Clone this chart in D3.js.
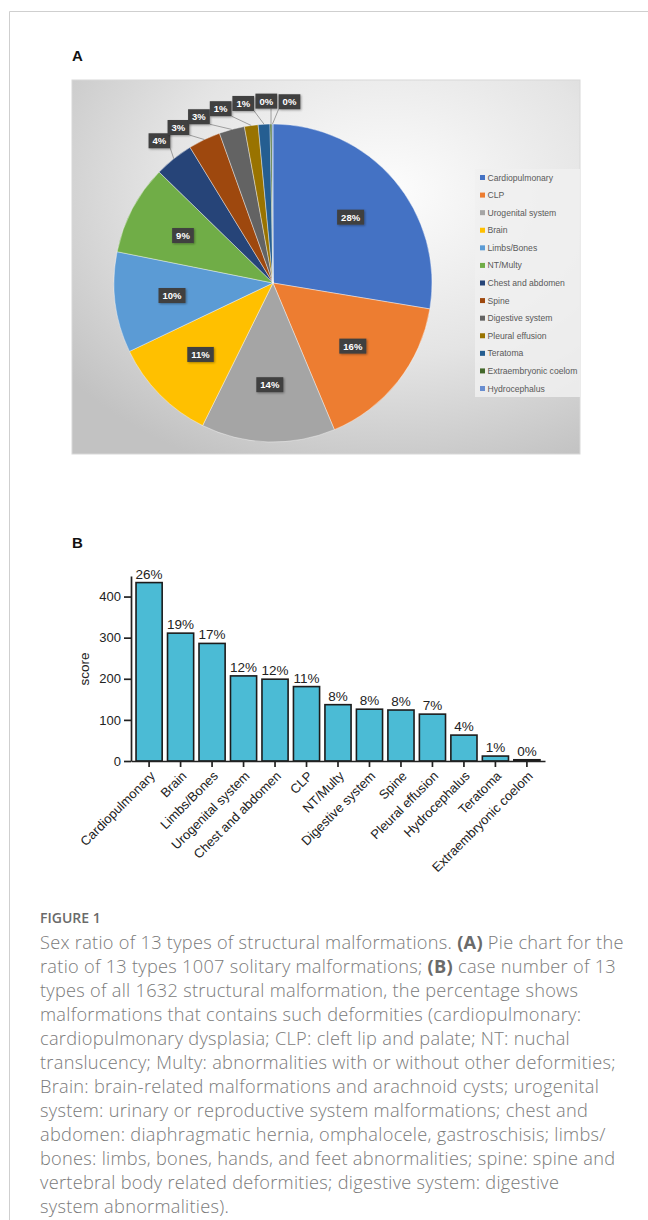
<!DOCTYPE html>
<html>
<head>
<meta charset="utf-8">
<script src="https://cdn.jsdelivr.net/npm/d3@7"></script>
<style>
body { margin: 0; background: #fff; }
svg text { font-family: "Liberation Sans", Arial, sans-serif; }
.caption { font-family: "Open Sans", sans-serif !important; }
</style>
</head>
<body>
<svg id="canvas" width="648" height="1220"></svg>
<script>
// pie (A): 1007 solitary malformations
let pieNames = ["Cardiopulmonary", "CLP", "Urogenital system", "Brain", "Limbs/Bones", "NT/Multy",
    "Chest and abdomen", "Spine", "Digestive system", "Pleural effusion", "Teratoma",
    "Extraembryonic coelom", "Hydrocephalus"]
let pieCounts = [278, 162, 137, 107, 103, 92, 40, 33, 26, 14, 12, 2, 1]
let pieColors = ["#4472C4", "#ED7D31", "#A5A5A5", "#FFC000", "#5B9BD5", "#70AD47",
    "#264478", "#9E480E", "#636363", "#997300", "#255E91", "#43682B", "#698ED0"]

// bars (B): 1632 structural malformations
let barNames = ["Cardiopulmonary", "Brain", "Limbs/Bones", "Urogenital system", "Chest and abdomen", "CLP",
    "NT/Multy", "Digestive system", "Spine", "Pleural effusion", "Hydrocephalus", "Teratoma",
    "Extraembryonic coelom"]
let barValues = [434, 311, 286, 207, 199, 181, 137, 126, 124, 114, 63, 12, 3]
let barPercents = ["26%", "19%", "17%", "12%", "12%", "11%", "8%", "8%", "8%", "7%", "4%", "1%", "0%"]
let yTicks = [0, 100, 200, 300, 400]

let captionLines = [
    ["Sex ratio of 13 types of structural malformations. ", "(A)", " Pie chart for the"],
    ["ratio of 13 types 1007 solitary malformations; ", "(B)", " case number of 13"],
    ["types of all 1632 structural malformation, the percentage shows"],
    ["malformations that contains such deformities (cardiopulmonary:"],
    ["cardiopulmonary dysplasia; CLP: cleft lip and palate; NT: nuchal"],
    ["translucency; Multy: abnormalities with or without other deformities;"],
    ["Brain: brain-related malformations and arachnoid cysts; urogenital"],
    ["system: urinary or reproductive system malformations; chest and"],
    ["abdomen: diaphragmatic hernia, omphalocele, gastroschisis; limbs/"],
    ["bones: limbs, bones, hands, and feet abnormalities; spine: spine and"],
    ["vertebral body related deformities; digestive system: digestive"],
    ["system abnormalities)."]
]

let svg = d3.select("#canvas")

// page frame
svg.append("line").attr("x1", 9.5).attr("y1", 11.5).attr("x2", 648).attr("y2", 11.5)
    .attr("stroke", "#cfcfcf")
svg.append("line").attr("x1", 9.5).attr("y1", 11.5).attr("x2", 9.5).attr("y2", 1220)
    .attr("stroke", "#cfcfcf")

let defs = svg.append("defs")
let grad = defs.append("radialGradient").attr("id", "bg")
    .attr("cx", "62%").attr("cy", "30%").attr("r", "80%")
grad.append("stop").attr("offset", "0%").attr("stop-color", "#fdfdfd")
grad.append("stop").attr("offset", "55%").attr("stop-color", "#e4e4e4")
grad.append("stop").attr("offset", "100%").attr("stop-color", "#c2c2c2")

let shadow = defs.append("filter").attr("id", "shd").attr("x", "-30%").attr("y", "-30%")
    .attr("width", "160%").attr("height", "160%")
shadow.append("feDropShadow").attr("dx", 1).attr("dy", 1).attr("stdDeviation", 0.8)
    .attr("flood-color", "#000").attr("flood-opacity", 0.35)

// ---------- A: pie ----------
svg.append("text").text("A").attr("x", 72).attr("y", 61)
    .attr("font-size", 15).attr("font-weight", "bold").attr("fill", "#111")

svg.append("rect").attr("x", 72).attr("y", 80).attr("width", 508).attr("height", 374)
    .attr("fill", "url(#bg)").attr("stroke", "#d8d8d8")

let cx = 273, cy = 283, R = 159
let total = d3.sum(pieCounts)
let pieData = pieNames.map((n, i) => ({ name: n, value: pieCounts[i], color: pieColors[i] }))
let arcs = d3.pie().sort(null).value(d => d.value)(pieData)
let arc = d3.arc().innerRadius(0).outerRadius(R)
let pctFmt = d3.format(".0%")

let pieG = svg.append("g").attr("transform", "translate(" + cx + "," + cy + ")")
pieG.selectAll("path").data(arcs).enter().append("path")
    .attr("d", arc)
    .attr("fill", d => d.data.color)
    .attr("stroke", "#fff").attr("stroke-width", 0.4)

let mid = d => (d.startAngle + d.endAngle) / 2

// inside labels for big slices, outside with leaders for the small ones
let inside = arcs.filter(d => d.value / total >= 0.05)
let outside = arcs.filter(d => d.value / total < 0.05)

let inArc = d3.arc().innerRadius(R * 0.64).outerRadius(R * 0.64)
let labelPos = []
inside.forEach(d => {
    let c = inArc.centroid(d)
    labelPos.push({ d: d, x: c[0], y: c[1], leader: false })
})

// small labels fanned out clockwise from the first small slice
let ringR = R + 23, gap = 7.3 * Math.PI / 180
let fanStart = mid(outside[0])
outside.forEach((d, k) => {
    let a = fanStart + gap * k
    labelPos.push({ d: d, x: ringR * Math.sin(a), y: -ringR * Math.cos(a), leader: true })
})

let lblG = pieG.selectAll("g.lbl").data(labelPos).enter().append("g").attr("class", "lbl")
    .attr("transform", p => "translate(" + p.x + "," + p.y + ")")

let lblText = lblG.append("text")
    .text(p => pctFmt(p.d.value / total))
    .attr("text-anchor", "middle").attr("dy", "0.36em")
    .attr("font-size", 9.5).attr("font-weight", "bold").attr("fill", "#fff")

lblText.each(function (p) {
    p.w = this.getComputedTextLength() + 8
    p.h = 15
})

lblG.insert("rect", "text")
    .attr("x", p => -p.w / 2).attr("y", p => -p.h / 2)
    .attr("width", p => p.w).attr("height", p => p.h)
    .attr("fill", "#404040").attr("filter", "url(#shd)")

pieG.selectAll("line.leader").data(labelPos.filter(p => p.leader)).enter()
    .insert("line", "g.lbl").attr("class", "leader")
    .attr("x1", p => Math.max(p.x - p.w / 2, Math.min(p.x + p.w / 2, R * Math.sin(mid(p.d)))))
    .attr("y1", p => p.y + p.h / 2)
    .attr("x2", p => R * Math.sin(mid(p.d)))
    .attr("y2", p => -R * Math.cos(mid(p.d)))
    .attr("stroke", "#8a8a8a").attr("stroke-width", 0.8)

// legend
let legY = d3.scalePoint().domain(pieNames).range([177.5, 388.5])
svg.append("rect").attr("x", 475).attr("y", 169).attr("width", 105).attr("height", 228)
    .attr("fill", "#f0f0f0").attr("opacity", 0.85)
let leg = svg.selectAll("g.leg").data(pieData).enter().append("g").attr("class", "leg")
    .attr("transform", d => "translate(480," + legY(d.name) + ")")
leg.append("rect").attr("x", 0).attr("y", -2.5).attr("width", 5).attr("height", 5)
    .attr("fill", d => d.color)
leg.append("text").text(d => d.name).attr("x", 7.5).attr("dy", "0.35em")
    .attr("font-size", 8.6).attr("fill", "#595959")

// ---------- B: bars ----------
svg.append("text").text("B").attr("x", 72).attr("y", 548)
    .attr("font-size", 15).attr("font-weight", "bold").attr("fill", "#111")

let x = d3.scaleBand().domain(barNames).range([131, 545]).paddingInner(0.17).paddingOuter(0.16)
let y = d3.scaleLinear().domain([0, 450]).range([761, 576])

let barG = svg.append("g")
barG.selectAll("rect").data(barNames).enter().append("rect")
    .attr("x", (n) => x(n))
    .attr("y", (n, i) => y(barValues[i]))
    .attr("width", x.bandwidth())
    .attr("height", (n, i) => y(0) - y(barValues[i]))
    .attr("fill", "#4BBBD5")
    .attr("stroke", "#1c1c1c").attr("stroke-width", 1.6)

barG.selectAll("text").data(barNames).enter().append("text")
    .text((n, i) => barPercents[i])
    .attr("x", n => x(n) + x.bandwidth() / 2)
    .attr("y", (n, i) => y(barValues[i]) - 4)
    .attr("text-anchor", "middle").attr("font-size", 13.5).attr("fill", "#222")

let yAxis = svg.append("g").attr("transform", "translate(131,0)")
    .call(d3.axisLeft(y).tickValues(yTicks).tickSize(7).tickPadding(3).tickSizeOuter(0))
yAxis.selectAll("path, line").attr("stroke", "#222").attr("stroke-width", 1.7)
yAxis.selectAll("text").attr("font-size", 13).attr("fill", "#222")
    .style("font-family", "'Liberation Sans', Arial, sans-serif")

let xAxis = svg.append("g").attr("transform", "translate(0,761)")
    .call(d3.axisBottom(x).tickSize(6).tickSizeOuter(0))
xAxis.selectAll("path, line").attr("stroke", "#222").attr("stroke-width", 1.7)
xAxis.selectAll("text")
    .attr("x", 0).attr("y", 0).attr("dy", "0.3em")
    .attr("text-anchor", "end")
    .attr("transform", "translate(4,13) rotate(-45)")
    .attr("font-size", 13).attr("fill", "#222")
    .style("font-family", "'Liberation Sans', Arial, sans-serif")

svg.append("text").text("score")
    .attr("transform", "translate(89,669) rotate(-90)")
    .attr("text-anchor", "middle").attr("font-size", 13.5).attr("fill", "#222")

// ---------- caption ----------
svg.append("text").attr("class", "caption").text("FIGURE 1")
    .attr("x", 40).attr("y", 923)
    .attr("font-size", 14).attr("font-weight", 600).attr("fill", "#6a6a6a")

let cap = svg.append("text").attr("class", "caption")
    .attr("font-size", 18.2).attr("font-weight", 300).attr("fill", "#7a7a7a")
    .attr("letter-spacing", "0.28px")
captionLines.forEach((parts, i) => {
    let line = cap.append("tspan").attr("x", 40).attr("y", 949 + i * 24)
    parts.forEach(s => {
        let strong = (s === "(A)" || s === "(B)")
        line.append("tspan").text(s)
            .attr("font-weight", strong ? "bold" : null)
            .attr("fill", strong ? "#6a6a6a" : null)
    })
})
</script>
</body>
</html>
